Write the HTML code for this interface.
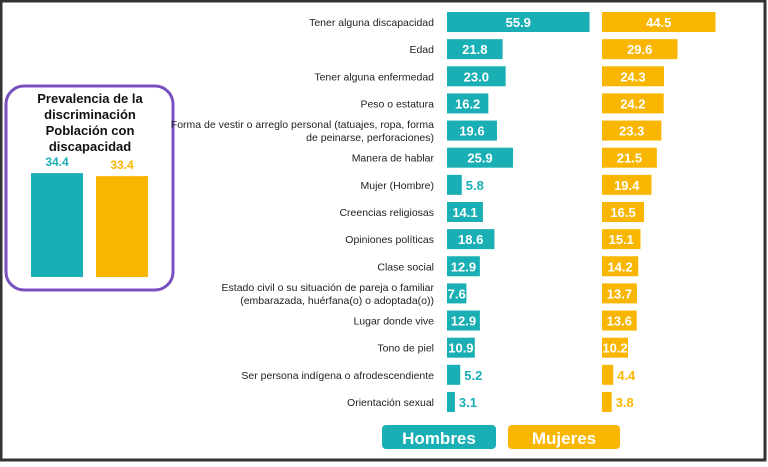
<!DOCTYPE html>
<html><head><meta charset="utf-8"><style>
body{margin:0;background:#fff;width:768px;height:462px;overflow:hidden;font-family:"Liberation Sans",sans-serif}
</style></head><body>
<svg width="768" height="462" id="c" font-family="Liberation Sans, sans-serif">
<rect x="1" y="1" width="764" height="459" fill="#fff" stroke="#333" stroke-width="3"/>
<rect x="6" y="86" width="167" height="204" rx="18" fill="#fff" stroke="#7a4fc0" stroke-width="3"/>
<g font-weight="bold" font-size="13" text-anchor="middle" fill="#111">
<text x="90" y="103">Prevalencia de la</text>
<text x="90" y="119">discriminación</text>
<text x="90" y="135">Población con</text>
<text x="90" y="151">discapacidad</text>
</g>
<g id="prev"></g>
<g id="bars"></g>
<rect x="382" y="425" width="114" height="24" rx="4" fill="#1aafb4"/>
<text x="439" y="444" fill="#fff" font-weight="bold" font-size="17" text-anchor="middle">Hombres</text>
<rect x="508" y="425" width="112" height="24" rx="4" fill="#f9b600"/>
<text x="564" y="444" fill="#fff" font-weight="bold" font-size="17" text-anchor="middle">Mujeres</text>
</svg>
<script>
const categories=[["Tener alguna discapacidad"],["Edad"],["Tener alguna enfermedad"],["Peso o estatura"],["Forma de vestir o arreglo personal (tatuajes, ropa, forma","de peinarse, perforaciones)"],["Manera de hablar"],["Mujer (Hombre)"],["Creencias religiosas"],["Opiniones políticas"],["Clase social"],["Estado civil o su situación de pareja o familiar","(embarazada, huérfana(o) o adoptada(o))"],["Lugar donde vive"],["Tono de piel"],["Ser persona indígena o afrodescendiente"],["Orientación sexual"]];
const hombres=[55.9,21.8,23.0,16.2,19.6,25.9,5.8,14.1,18.6,12.9,7.6,12.9,10.9,5.2,3.1];
const mujeres=[44.5,29.6,24.3,24.2,23.3,21.5,19.4,16.5,15.1,14.2,13.7,13.6,10.2,4.4,3.8];
const prevalence=[34.4,33.4];
const TEAL="#1aafb4",YEL="#f9b600",NS="http://www.w3.org/2000/svg";
const sx=v=>v*2.55, yc=i=>22+i*27.14, py=v=>277-v*3.02;
function mk(t,a,p){const e=document.createElementNS(NS,t);for(const k in a)e.setAttribute(k,a[k]);p.appendChild(e);return e;}
const g=document.getElementById('bars');
categories.forEach((lab,i)=>{
 const y=yc(i);
 const t=mk('text',{x:434,'text-anchor':'end','font-size':10.5,fill:'#222'},g);
 
 
 lab.forEach((l,j)=>{const s=mk('tspan',{x:434,y:y+4+(j-(lab.length-1)/2)*13},t);s.textContent=l;});
 [[hombres,447,TEAL,'bar-hombres'],[mujeres,602,YEL,'bar-mujeres']].forEach(([arr,x0,col,nm])=>{
  const v=arr[i],w=sx(v);
  const r=mk('rect',{x:x0,y:y-10,width:w,height:20,fill:col},g);
  
  
  const inside=v>=7;
  const tx=mk('text',{x:inside?x0+w/2:x0+w+4,y:y+5,'text-anchor':inside?'middle':'start','font-size':13,'font-weight':'bold',fill:inside?'#fff':col},g);
  
  
  tx.textContent=v.toFixed(1);
 });
});
const pg=document.getElementById('prev');
[[31,TEAL],[96,YEL]].forEach(([x,col],i)=>{
 const v=prevalence[i];
 const r=mk('rect',{x:x,y:py(v),width:52,height:277-py(v),fill:col},pg);
 
 
 const t=mk('text',{x:x+26,y:py(v)-7,'text-anchor':'middle','font-size':12,'font-weight':'bold',fill:col},pg);
 
 
 t.textContent=v.toFixed(1);
});
</script>
</body></html>
